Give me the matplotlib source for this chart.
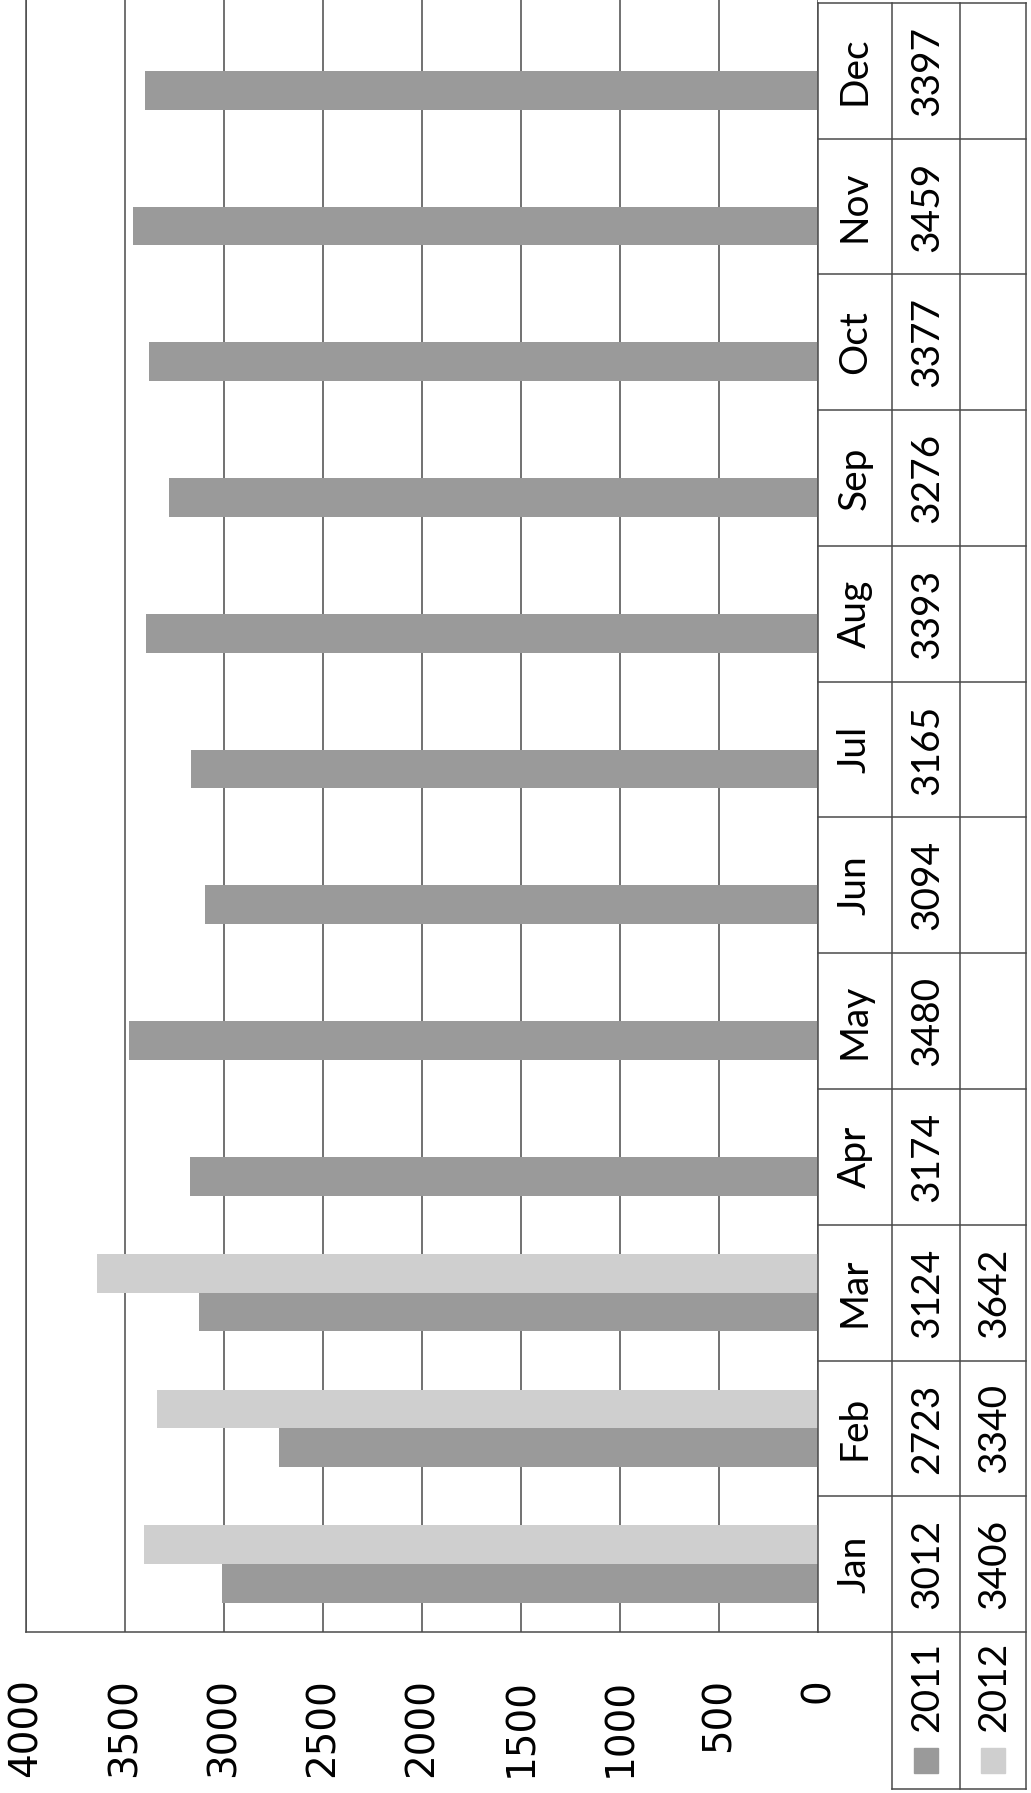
import matplotlib
matplotlib.use("Agg")
import matplotlib.pyplot as plt
import matplotlib.transforms as mtransforms
from matplotlib.patches import Rectangle
import numpy as np

months = ['Jan', 'Feb', 'Mar', 'Apr', 'May', 'Jun',
          'Jul', 'Aug', 'Sep', 'Oct', 'Nov', 'Dec']
series_names = ['2011', '2012']
values_2011 = [3012, 2723, 3124, 3174, 3480, 3094, 3165, 3393, 3276, 3377, 3459, 3397]
values_2012 = [3406, 3340, 3642, None, None, None, None, None, None, None, None, None]
ticks = [0, 500, 1000, 1500, 2000, 2500, 3000, 3500, 4000]

col_dark = '#9a9a9a'
col_light = '#cfcfcf'
line_col = '#4a4a4a'
W, H = 1031, 1793


def px(x):
    return x / W


fig = plt.figure(figsize=(W / 100, H / 100), dpi=100)
fig.patch.set_facecolor('white')
# plot area: x from 26 to 818 px, y from top down to 1632 px
ax = fig.add_axes([px(26), (H - 1632) / H, px(818 - 26), 1632 / H])
ax.set_xlim(4000, 0)
ax.set_ylim(-0.5, 1632 / 135.75 - 0.5)

pos = np.arange(len(months))
bw = 0.2857
v11 = np.array(values_2011, dtype=float)
v12 = np.array([np.nan if v is None else v for v in values_2012], dtype=float)
ax.barh(pos - bw / 2, v11, height=bw, color=col_dark, zorder=3)
ax.barh(pos + bw / 2, v12, height=bw, color=col_light, zorder=3)

ax.set_xticks(ticks)
ax.set_xticklabels([str(t) for t in ticks], fontsize=28, family='DejaVu Sans')
ax.tick_params(axis='x', length=0, pad=33, labelrotation=90)
ax.set_yticks([])
ax.grid(axis='x', color=line_col, linewidth=1.1, zorder=1)
for s in ['top', 'right']:
    ax.spines[s].set_visible(False)
for s in ['left', 'bottom']:
    ax.spines[s].set_color(line_col)
    ax.spines[s].set_linewidth(1.1)

# data table to the right, x in figure pixels, y in data units
tr = mtransforms.blended_transform_factory(fig.transFigure, ax.transData)
c0, c1, c2, c3 = px(818), px(892), px(960), px(1026)
top = len(months) - 0.5
bottom_hdr = (1632 - 1789) / 135.75 - 0.5
lk = dict(color=line_col, linewidth=1.1, transform=tr, clip_on=False, zorder=4)
ax.plot([c0, c0], [-0.5, top], **lk)
for c in [c1, c2, c3]:
    ax.plot([c, c], [bottom_hdr, top], **lk)
for i in range(len(months) + 1):
    ax.plot([c0, c3], [i - 0.5, i - 0.5], **lk)
ax.plot([c1, c3], [bottom_hdr, bottom_hdr], **lk)

tf = dict(family=['Lato', 'DejaVu Sans'], fontsize=28, rotation=90,
          ha='center', va='center', transform=tr, clip_on=False)
for i, m in enumerate(months):
    ax.text((c0 + c1) / 2, i, m, **tf)
    ax.text((c1 + c2) / 2 + px(1), i, str(values_2011[i]), **tf)
    if values_2012[i] is not None:
        ax.text((c2 + c3) / 2 + px(1), i, str(values_2012[i]), **tf)

# row headers with legend keys
hdr_y = -0.5 - 10 / 135.75
for cl, cr, name, colr in [(c1, c2, series_names[0], col_dark),
                           (c2, c3, series_names[1], col_light)]:
    t = dict(tf)
    t['va'] = 'top'
    ax.text((cl + cr) / 2 + px(1), hdr_y, name, **t)
    kx = (cl + cr) / 2 - px(12)
    fig.patches.append(Rectangle((kx, (H - 1773) / H), px(24), 25 / H,
                                 transform=fig.transFigure, color=colr))

plt.savefig('out.png', dpi=100)
plt.close()
